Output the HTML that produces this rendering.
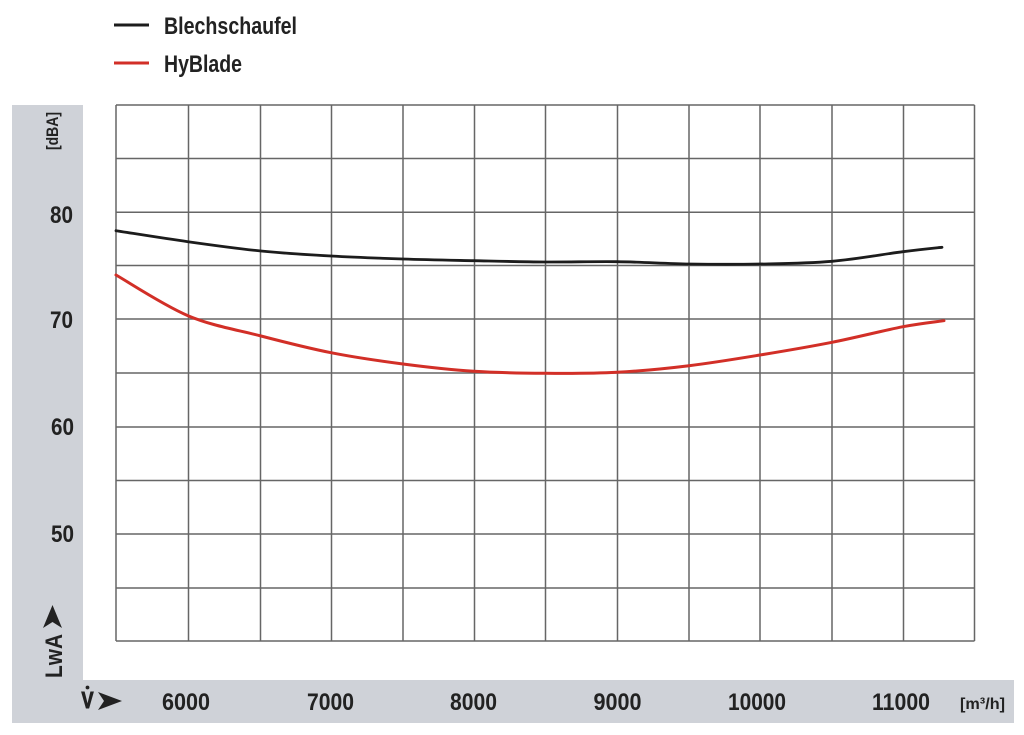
<!DOCTYPE html>
<html>
<head>
<meta charset="utf-8">
<style>
html,body{margin:0;padding:0;background:#fff;}
svg{display:block;}
text{font-family:"Liberation Sans Narrow","Liberation Sans",sans-serif;font-weight:bold;fill:#222;}
</style>
</head>
<body>
<svg width="1024" height="735" viewBox="0 0 1024 735" xmlns="http://www.w3.org/2000/svg">
  <rect x="0" y="0" width="1024" height="735" fill="#fff"/>
  <!-- gray L band -->
  <rect x="12" y="105" width="71" height="618" fill="#cfd2d8"/>
  <rect x="12" y="680" width="1002" height="43" fill="#cfd2d8"/>

  <!-- legend -->
  <line x1="114" y1="25" x2="149" y2="25" stroke="#1c1c1c" stroke-width="3"/>
  <text x="164" y="34" font-size="24" textLength="133" lengthAdjust="spacingAndGlyphs">Blechschaufel</text>
  <line x1="114" y1="63" x2="149" y2="63" stroke="#d22f27" stroke-width="3"/>
  <text x="164" y="72" font-size="24" textLength="78" lengthAdjust="spacingAndGlyphs">HyBlade</text>

  <!-- grid -->
  <g stroke="#666" stroke-width="1.5" fill="none">
    <line x1="116" y1="105" x2="116" y2="641"/>
    <line x1="188.5" y1="105" x2="188.5" y2="641"/>
    <line x1="260.5" y1="105" x2="260.5" y2="641"/>
    <line x1="331.5" y1="105" x2="331.5" y2="641"/>
    <line x1="403" y1="105" x2="403" y2="641"/>
    <line x1="474.5" y1="105" x2="474.5" y2="641"/>
    <line x1="545.5" y1="105" x2="545.5" y2="641"/>
    <line x1="617.5" y1="105" x2="617.5" y2="641"/>
    <line x1="689" y1="105" x2="689" y2="641"/>
    <line x1="760" y1="105" x2="760" y2="641"/>
    <line x1="832" y1="105" x2="832" y2="641"/>
    <line x1="903.5" y1="105" x2="903.5" y2="641"/>
    <line x1="974.5" y1="105" x2="974.5" y2="641"/>
    <line x1="116" y1="105" x2="974.5" y2="105"/>
    <line x1="116" y1="158.5" x2="974.5" y2="158.5"/>
    <line x1="116" y1="212.3" x2="974.5" y2="212.3"/>
    <line x1="116" y1="265.5" x2="974.5" y2="265.5"/>
    <line x1="116" y1="319" x2="974.5" y2="319"/>
    <line x1="116" y1="373" x2="974.5" y2="373"/>
    <line x1="116" y1="427" x2="974.5" y2="427"/>
    <line x1="116" y1="480.5" x2="974.5" y2="480.5"/>
    <line x1="116" y1="534" x2="974.5" y2="534"/>
    <line x1="116" y1="588" x2="974.5" y2="588"/>
    <line x1="116" y1="641" x2="974.5" y2="641"/>
  </g>

  <!-- Blechschaufel curve -->
  <path fill="none" stroke="#1c1c1c" stroke-width="2.8" stroke-linecap="round" stroke-linejoin="round"
    d="M116,230.7 C128,232.5 163.8,238.3 188,241.7
       C212.2,245.1 237.2,248.6 261,251
       C284.8,253.4 307.3,254.7 331,256
       C354.7,257.3 379.2,258.2 403,259
       C426.8,259.8 450.3,260.2 474,260.7
       C497.7,261.2 521.2,261.8 545,262
       C568.8,262.2 593,261.4 617,261.7
       C641,262 665.2,263.6 689,264
       C712.8,264.4 736.2,264.5 760,264
       C783.8,263.55 808.2,263.35 832,261.3
       C855.8,259.25 884.7,254 903,251.7
       C921.3,249.4 935.5,248 942,247.3"/>

  <!-- HyBlade curve -->
  <path fill="none" stroke="#d22f27" stroke-width="3" stroke-linecap="round" stroke-linejoin="round"
    d="M116,275 C128,281.8 163.8,305.5 188,315.7
       C212.2,325.9 237.2,329.8 261,336
       C284.8,342.2 307.3,348 331,352.7
       C354.7,357.4 379.2,360.9 403,364
       C426.8,367.1 450.3,369.75 474,371.3
       C497.7,372.85 521.2,373.1 545,373.3
       C568.8,373.5 593,373.6 617,372.3
       C641,371 665.2,368.6 689,365.7
       C712.8,362.8 736.2,358.9 760,355
       C783.8,351.1 808.2,347 832,342.3
       C855.8,337.6 884.3,330.3 903,326.7
       C921.7,323.3 937.2,321.7 944,320.7"/>

  <!-- y axis labels -->
  <text font-size="17" transform="translate(58,150) rotate(-90)" textLength="38" lengthAdjust="spacingAndGlyphs">[dBA]</text>
  <text x="50" y="223" font-size="24" textLength="23" lengthAdjust="spacingAndGlyphs">80</text>
  <text x="50" y="328" font-size="24" textLength="23" lengthAdjust="spacingAndGlyphs">70</text>
  <text x="51" y="435" font-size="24" textLength="23" lengthAdjust="spacingAndGlyphs">60</text>
  <text x="51" y="542" font-size="24" textLength="23" lengthAdjust="spacingAndGlyphs">50</text>
  <polygon points="52.5,605 62,628 52.5,622 43,628" fill="#222"/>
  <text font-size="24" transform="translate(62,678) rotate(-90)" textLength="44" lengthAdjust="spacingAndGlyphs">LwA</text>

  <!-- x axis labels -->
  <text x="81.5" y="708" font-size="23" textLength="12" lengthAdjust="spacingAndGlyphs" stroke="#222" stroke-width="1">V</text>
  <circle cx="87.5" cy="687.5" r="1.9" fill="#222"/>
  <polygon points="98,692 122,701 98,710 104,701" fill="#222"/>
  <text x="186" y="710" font-size="24" text-anchor="middle" textLength="48" lengthAdjust="spacingAndGlyphs">6000</text>
  <text x="330.5" y="710" font-size="24" text-anchor="middle" textLength="47" lengthAdjust="spacingAndGlyphs">7000</text>
  <text x="473.5" y="710" font-size="24" text-anchor="middle" textLength="47" lengthAdjust="spacingAndGlyphs">8000</text>
  <text x="617.5" y="710" font-size="24" text-anchor="middle" textLength="48" lengthAdjust="spacingAndGlyphs">9000</text>
  <text x="757" y="710" font-size="24" text-anchor="middle" textLength="58" lengthAdjust="spacingAndGlyphs">10000</text>
  <text x="901" y="710" font-size="24" text-anchor="middle" textLength="58" lengthAdjust="spacingAndGlyphs">11000</text>
  <text x="960" y="709" font-size="16" textLength="45" lengthAdjust="spacingAndGlyphs">[m³/h]</text>
</svg>
</body>
</html>
